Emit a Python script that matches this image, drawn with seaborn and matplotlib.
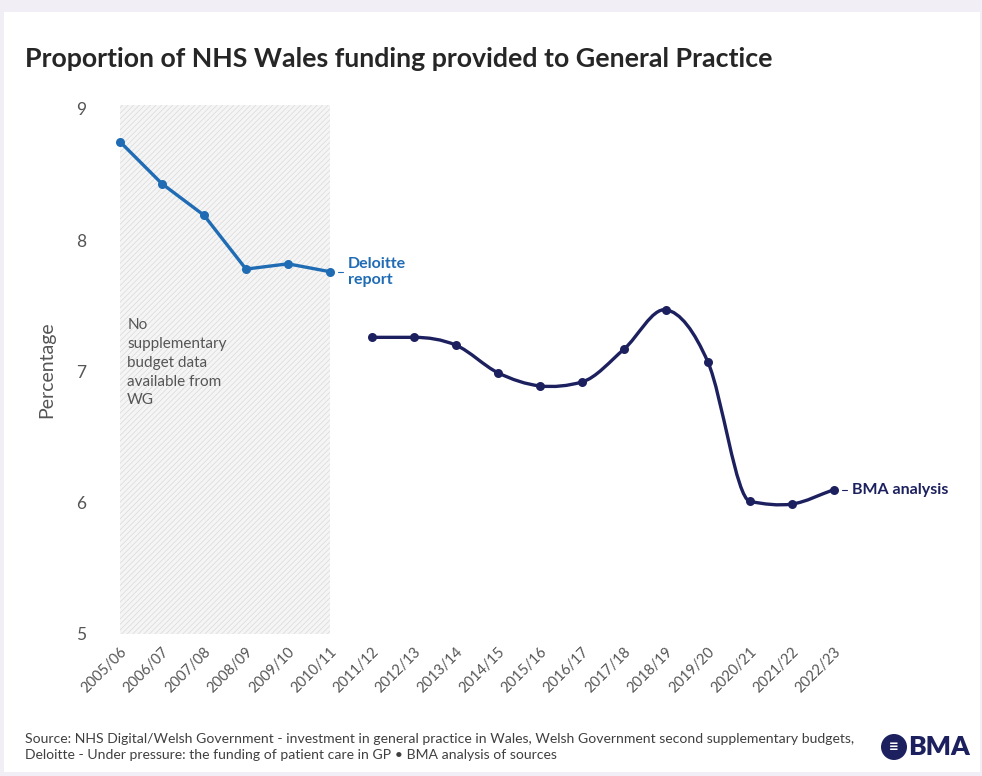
import numpy as np
import pandas as pd
import matplotlib
matplotlib.use("Agg")
import matplotlib.pyplot as plt
import seaborn as sns
from matplotlib.path import Path
from matplotlib.patches import PathPatch, Rectangle, Circle

# Financial years on the x axis
years = ["2005/06", "2006/07", "2007/08", "2008/09", "2009/10", "2010/11",
         "2011/12", "2012/13", "2013/14", "2014/15", "2015/16", "2016/17",
         "2017/18", "2018/19", "2019/20", "2020/21", "2021/22", "2022/23"]

# Deloitte report series (2005/06 - 2010/11)
deloitte_years = years[:6]
deloitte_pct = [8.75, 8.43, 8.19, 7.78, 7.82, 7.76]

# BMA analysis series (2011/12 - 2022/23)
bma_years = years[6:]
bma_pct = [7.26, 7.26, 7.20, 6.99, 6.89, 6.92, 7.17, 7.47, 7.07, 6.01, 5.99, 6.10]

yticks = [5, 6, 7, 8, 9]

BLUE = "#1f6cb4"
NAVY = "#1c205e"
GREY = "#555555"
FONT = ["Lato", "DejaVu Sans"]

sns.set_theme(style="white")
plt.rcParams["font.family"] = FONT
plt.rcParams["hatch.linewidth"] = 0.5
plt.rcParams["hatch.color"] = "#d9d9d9"

fig = plt.figure(figsize=(9.82, 7.76), dpi=100, facecolor="#f1eef6")
W, H = 982, 776
# white card behind everything
fig.patches.append(Rectangle((4 / W, 4 / H), (W - 6) / W, (H - 16) / H,
                             transform=fig.transFigure, facecolor="white",
                             edgecolor="none", zorder=-10))

ax_left, ax_right, ax_top, ax_bot = 100, 900, 105, 634
ax = fig.add_axes([ax_left / W, 1 - ax_bot / H, (ax_right - ax_left) / W,
                   (ax_bot - ax_top) / H])
ax.set_facecolor("none")
ax.set_zorder(2)

pos = {y: i for i, y in enumerate(years)}
df_d = pd.DataFrame({"x": [pos[y] for y in deloitte_years], "pct": deloitte_pct})
df_b = pd.DataFrame({"x": [pos[y] for y in bma_years], "pct": bma_pct})

px = 42.0
xl = -(120 - ax_left) / px
xr = xl + (ax_right - ax_left) / px
ax.set_xlim(xl, xr)
ax.set_ylim(5, 9.03)

# shaded period without supplementary budget data
ax.axvspan(0, 5, facecolor="#f5f5f5", edgecolor="#d9d9d9", hatch="//////",
           linewidth=0, zorder=0)

# Deloitte: straight segments
sns.lineplot(data=df_d, x="x", y="pct", ax=ax, color=BLUE, linewidth=2.4,
             marker="o", markersize=6.5, markeredgewidth=0, zorder=3)

# BMA: smoothed curve through the points, drawn as cubic Bezier segments.
# Tangents are Catmull-Rom, limited where the curve is monotone so it
# does not overshoot the points.
xs = df_b["x"].to_numpy(float)
ys = df_b["pct"].to_numpy(float)
n = len(xs)
d = np.diff(ys) / np.diff(xs)
m = np.zeros(n)
m[0], m[-1] = d[0], d[-1]
for i in range(1, n - 1):
    cr = (ys[i + 1] - ys[i - 1]) / (xs[i + 1] - xs[i - 1])
    if d[i - 1] * d[i] > 0:
        lim = 3 * min(abs(d[i - 1]), abs(d[i]))
        cr = np.sign(cr) * min(abs(cr), lim)
    elif d[i - 1] == 0 or d[i] == 0:
        cr = 0.0
    m[i] = cr
verts = [(xs[0], ys[0])]
codes = [Path.MOVETO]
for i in range(n - 1):
    h = xs[i + 1] - xs[i]
    verts += [(xs[i] + h / 3, ys[i] + m[i] * h / 3),
              (xs[i + 1] - h / 3, ys[i + 1] - m[i + 1] * h / 3),
              (xs[i + 1], ys[i + 1])]
    codes += [Path.CURVE4] * 3
ax.add_patch(PathPatch(Path(verts, codes), facecolor="none", edgecolor=NAVY,
                       linewidth=2.4, zorder=3, capstyle="round"))
sns.scatterplot(data=df_b, x="x", y="pct", ax=ax, color=NAVY, s=42,
                linewidth=0, zorder=4)

# axes styling
ax.set_xticks(range(len(years)))
ax.set_xticklabels(years, rotation=45, ha="right", rotation_mode="anchor",
                   fontsize=10.5, color=GREY)
ax.set_yticks(yticks)
ax.set_yticklabels([str(t) for t in yticks], fontsize=12.5, color=GREY)
ax.tick_params(axis="x", length=0, pad=8)
ax.tick_params(axis="y", length=0, pad=10)
for s in ax.spines.values():
    s.set_visible(False)
ax.set_xlabel("")
ax.set_ylabel("Percentage", fontsize=14, color=GREY)
ax.yaxis.set_label_coords(-(100 - 55) / (ax_right - ax_left), 0.5)

# series labels
ax.annotate("Deloitte\nreport", xy=(5, deloitte_pct[-1]), xytext=(13, 0),
            textcoords="offset points", color=BLUE, fontsize=11.5,
            fontweight="bold", va="center", ha="left", linespacing=1.2,
            annotation_clip=False)
ax.plot([5.2, 5.3], [deloitte_pct[-1]] * 2, color=BLUE, linewidth=0.8)
ax.annotate("BMA analysis", xy=(17, bma_pct[-1]), xytext=(13, 0),
            textcoords="offset points", color=NAVY, fontsize=11.5,
            fontweight="bold", va="center", ha="left", annotation_clip=False)
ax.plot([17.2, 17.3], [bma_pct[-1]] * 2, color=NAVY, linewidth=0.8,
        clip_on=False)

ax.text(0.17, 7.41, "No\nsupplementary\nbudget data\navailable from\nWG",
        fontsize=11, color=GREY, va="top", ha="left", linespacing=1.45)

# title and source
fig.text(25 / W, 1 - 59 / H, "Proportion of NHS Wales funding provided to General Practice",
         fontsize=19.3, fontweight="bold", color="#262626", va="center", ha="left")
fig.text(25 / W, 1 - 747 / H,
         "Source: NHS Digital/Welsh Government - investment in general practice in Wales, "
         "Welsh Government second supplementary budgets,\n"
         "Deloitte - Under pressure: the funding of patient care in GP \u2022 BMA analysis of sources",
         fontsize=10.1, color="#404040", va="center", ha="left", linespacing=1.45)

# BMA logo
ly = 1 - 747 / H
fig.patches.append(Circle((894, 776 - 747), 13, transform=None,
                          facecolor=NAVY, edgecolor="none", zorder=5))
fig.text(894 / W, ly, "\u2261", fontsize=12, color="white", ha="center",
         va="center", fontweight="bold", zorder=6)
fig.text(908 / W, ly, "BMA", fontsize=19, fontweight="heavy", color=NAVY,
         ha="left", va="center")

fig.savefig("out.png", dpi=100, facecolor=fig.get_facecolor())
